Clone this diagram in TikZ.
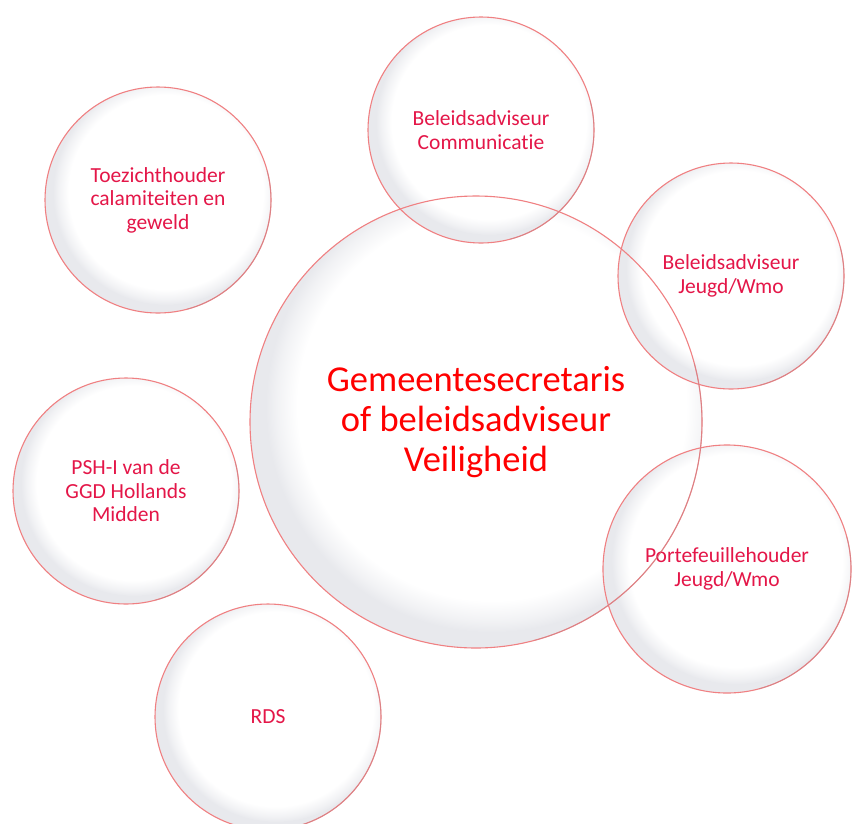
\documentclass[tikz,border=0pt]{standalone}
\usepackage{fontspec}
\setmainfont{Carlito}[Ligatures=NoCommon]
\usetikzlibrary{calc}
\definecolor{txtsmall}{RGB}{228,22,72}
\definecolor{txtbig}{RGB}{255,0,0}
\definecolor{rim}{RGB}{240,128,130}
\definecolor{rimdark}{RGB}{205,130,135}
\definecolor{shgray}{RGB}{232,233,237}
\pgfdeclareradialshading{bubbleshade}{\pgfpoint{0bp}{0bp}}{color(0bp)=(white); color(21.5bp)=(white); color(23.8bp)=(shgray!60!white); color(25bp)=(shgray); color(50bp)=(shgray)}
\begin{document}
\begin{tikzpicture}[x=1pt,y=-1pt,
  bub/.style={circle, draw=rim, line width=1.1pt, inner sep=0pt, minimum size={2*#1pt}, align=center},
  smalltext/.style={text=txtsmall, font=\fontsize{21.5pt}{23.5pt}\selectfont},
  bigtext/.style={text=txtbig, font=\fontsize{36.5pt}{40pt}\selectfont}]
\useasboundingbox (0,0) rectangle (854,823);
\fill[white] (0,0) rectangle (854,823);
% positions
\coordinate (p-cen) at (476,422);
\coordinate (p-toe) at (158,200);
\coordinate (p-com) at (481,130);
\coordinate (p-jeu) at (731,276);
\coordinate (p-por) at (727,569);
\coordinate (p-psh) at (126,491);
\coordinate (p-rds) at (268,717);
% bubble fills
\foreach \n/\r in {cen/226,toe/113,com/113,jeu/113,por/124,psh/113,rds/113}{
  \fill[shgray] (p-\n) circle[radius=\r];
  \begin{scope}
    \clip (p-\n) circle[radius=\r];
    \shade[shading=bubbleshade] ($(p-\n)+(0.07*\r,-0.07*\r)$) circle[radius=\r];
  \end{scope}
}
% nodes
\node[bub=226, bigtext] (cen) at (p-cen) {Gemeentesecretaris\\of beleidsadviseur\\Veiligheid};
\node[bub=113, smalltext] (toe) at (p-toe) {Toezichthouder\\calamiteiten en\\geweld};
\node[bub=113, smalltext] (com) at (p-com) {Beleidsadviseur\\Communicatie};
\node[bub=113, smalltext] (jeu) at (p-jeu) {Beleidsadviseur\\Jeugd/Wmo};
\node[bub=124, smalltext] (por) at (p-por) {Portefeuillehouder\\Jeugd/Wmo};
\node[bub=113, smalltext] (psh) at (p-psh) {PSH-I van de\\GGD Hollands\\Midden};
\node[bub=113, smalltext] (rds) at (p-rds) {RDS};
% subtle darker rim at lower right
\foreach \n/\r in {cen/226,toe/113,com/113,jeu/113,por/124,psh/113,rds/113}{
  \draw[rimdark, line width=0.9pt, opacity=0.6] (p-\n) ++(75:\r) arc[start angle=75, end angle=-15, radius=\r];
}
\end{tikzpicture}
\end{document}
